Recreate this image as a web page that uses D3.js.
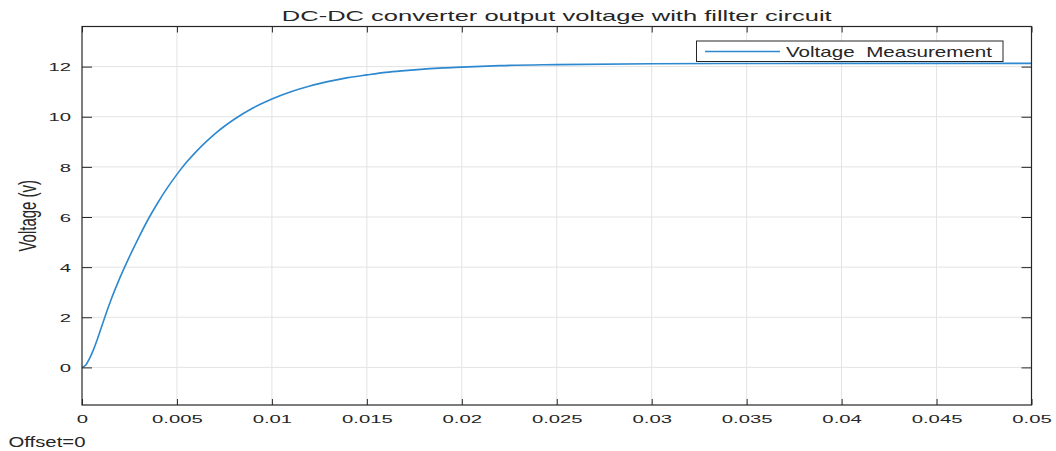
<!DOCTYPE html>
<html>
<head>
<meta charset="utf-8">
<script src="https://cdn.jsdelivr.net/npm/d3@7"></script>
<style>
  html, body { margin: 0; padding: 0; background: #fff; }
  svg { display: block; }
  text { font-family: "Liberation Sans", Arial, Helvetica, sans-serif; fill: #262626; }
</style>
</head>
<body>
<svg id="chart" width="1056" height="451"></svg>
<script>
// Scope trace: DC-DC converter output voltage (filtered)
const timeS = [0, 0.0002, 0.0004, 0.0006, 0.0008, 0.001, 0.0012, 0.0015, 0.002, 0.0025,
  0.003, 0.0035, 0.004, 0.0045, 0.005, 0.0055, 0.006, 0.0065, 0.007, 0.0075,
  0.008, 0.009, 0.010, 0.011, 0.012, 0.013, 0.014, 0.015, 0.016, 0.017,
  0.018, 0.019, 0.020, 0.022, 0.025, 0.030, 0.035, 0.040, 0.045, 0.050];
const voltageV = [0, 0.1, 0.36, 0.7, 1.1, 1.55, 2.0, 2.64, 3.58, 4.42,
  5.2, 5.93, 6.58, 7.17, 7.7, 8.18, 8.6, 8.98, 9.32, 9.62,
  9.89, 10.35, 10.71, 11.0, 11.23, 11.41, 11.56, 11.67, 11.77, 11.84,
  11.9, 11.95, 11.98, 12.04, 12.08, 12.115, 12.125, 12.13, 12.13, 12.13];

const xTicks = [0, 0.005, 0.01, 0.015, 0.02, 0.025, 0.03, 0.035, 0.04, 0.045, 0.05];
const xTickLabels = ["0", "0.005", "0.01", "0.015", "0.02", "0.025", "0.03", "0.035", "0.04", "0.045", "0.05"];
const yTicks = [0, 2, 4, 6, 8, 10, 12];
const yTickLabels = ["0", "2", "4", "6", "8", "10", "12"];

const titleText = "DC-DC converter output voltage with fillter circuit";
const yLabelText = "Voltage (v)";
const legendText = "Voltage  Measurement";
const offsetText = "Offset=0";

const svg = d3.select("#chart");
const plot = { left: 82, right: 1031.5, top: 26.5, bottom: 405 };

const x = d3.scaleLinear().domain([0, 0.05]).range([plot.left, plot.right]);
const y = d3.scaleLinear().domain([-1.5, 13.6]).range([plot.bottom, plot.top]);

const axisColor = "#262626";
const gridColor = "#e3e3e3";
const lineColor = "#2c88cf";

// widen glyphs horizontally by a factor, keeping the anchor point
function widen(sel, factor) {
  sel.each(function () {
    const w = this.getComputedTextLength();
    d3.select(this).attr("textLength", w * factor).attr("lengthAdjust", "spacingAndGlyphs");
  });
}

// grid
const grid = svg.append("g");
grid.selectAll("line.gx").data(xTicks.slice(1, -1)).join("line")
  .attr("x1", d => x(d)).attr("x2", d => x(d))
  .attr("y1", plot.top).attr("y2", plot.bottom)
  .attr("stroke", gridColor).attr("stroke-width", 1);
grid.selectAll("line.gy").data(yTicks).join("line")
  .attr("x1", plot.left).attr("x2", plot.right)
  .attr("y1", d => y(d)).attr("y2", d => y(d))
  .attr("stroke", gridColor).attr("stroke-width", 1);

// curve
const line = d3.line().x(d => x(d[0])).y(d => y(d[1])).curve(d3.curveMonotoneX);
svg.append("path")
  .datum(timeS.map((t, i) => [t, voltageV[i]]))
  .attr("d", line)
  .attr("fill", "none")
  .attr("stroke", lineColor)
  .attr("stroke-width", 1.6);

// axes (ticks pointing inward, box on all sides)
const xFmt = d => xTickLabels[xTicks.indexOf(d)];
const yFmt = d => yTickLabels[yTicks.indexOf(d)];

const gxBottom = svg.append("g").attr("transform", `translate(0,${plot.bottom})`)
  .call(d3.axisBottom(x).tickValues(xTicks).tickFormat(xFmt).tickSizeInner(-6).tickSizeOuter(0).tickPadding(0));
const gxTop = svg.append("g").attr("transform", `translate(0,${plot.top})`)
  .call(d3.axisTop(x).tickValues(xTicks).tickFormat("").tickSizeInner(-6).tickSizeOuter(0));
const gyLeft = svg.append("g").attr("transform", `translate(${plot.left},0)`)
  .call(d3.axisLeft(y).tickValues(yTicks).tickFormat(yFmt).tickSizeInner(-10).tickSizeOuter(0).tickPadding(0));
const gyRight = svg.append("g").attr("transform", `translate(${plot.right},0)`)
  .call(d3.axisRight(y).tickValues(yTicks).tickFormat("").tickSizeInner(-10).tickSizeOuter(0));

[gxBottom, gxTop, gyLeft, gyRight].forEach(g => {
  g.select(".domain").remove();
  g.selectAll(".tick line").attr("stroke", axisColor).attr("stroke-width", 1);
});

gxBottom.selectAll(".tick text")
  .attr("y", 17.5).attr("dy", 0)
  .style("font-size", "11.6px").attr("fill", axisColor)
  .call(widen, 1.75);
gyLeft.selectAll(".tick text")
  .attr("x", -11).attr("dy", "0.36em")
  .style("font-size", "11.6px").attr("fill", axisColor)
  .call(widen, 1.75);

// box
svg.append("rect")
  .attr("x", plot.left).attr("y", plot.top)
  .attr("width", plot.right - plot.left).attr("height", plot.bottom - plot.top)
  .attr("fill", "none").attr("stroke", axisColor).attr("stroke-width", 1.2);

// title
svg.append("text")
  .attr("x", (plot.left + plot.right) / 2).attr("y", 20.5)
  .attr("text-anchor", "middle")
  .style("font-size", "15px")
  .text(titleText)
  .call(widen, 1.7);

// y label
svg.append("text")
  .attr("transform", `translate(35.5,${(plot.top + plot.bottom) / 2}) scale(1.6,1) rotate(-90)`)
  .attr("text-anchor", "middle")
  .style("font-size", "15px")
  .text(yLabelText);

// offset note
svg.append("text")
  .attr("x", 8.5).attr("y", 446.5)
  .style("font-size", "14.5px")
  .text(offsetText)
  .call(widen, 1.4);

// legend
const legend = svg.append("g");
legend.append("rect")
  .attr("x", 696.5).attr("y", 41).attr("width", 306.5).attr("height", 20.5)
  .attr("fill", "#fff").attr("stroke", axisColor).attr("stroke-width", 1);
legend.append("line")
  .attr("x1", 705).attr("x2", 780).attr("y1", 51.5).attr("y2", 51.5)
  .attr("stroke", lineColor).attr("stroke-width", 1.3);
legend.append("text")
  .attr("x", 786).attr("y", 56.7)
  .style("font-size", "14.5px")
  .style("white-space", "pre")
  .text(legendText)
  .call(widen, 1.42);
</script>
</body>
</html>
